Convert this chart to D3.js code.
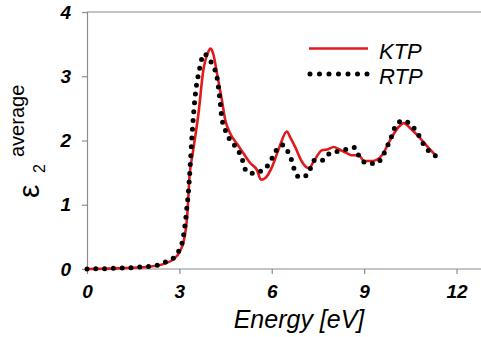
<!DOCTYPE html>
<html>
<head>
<meta charset="utf-8">
<script src="https://cdn.jsdelivr.net/npm/d3@7"></script>
<style>
  body { margin: 0; background: #fff; }
  svg { display: block; }
  text { font-family: "Liberation Sans", Arial, sans-serif; }
</style>
</head>
<body>
<div id="chart"></div>
<script>
// energy in eV, eps2 average
var ktpE = [0,0.5,1,1.5,2,2.5,2.8,3.0,3.15,3.25,3.33,3.45,3.62,3.78,3.92,4.02,4.1,4.22,4.38,4.49,4.65,4.87,5.08,5.3,5.52,5.65,5.8,6.01,6.25,6.49,6.6,6.76,6.98,7.2,7.36,7.63,7.8,8.01,8.2,8.45,8.6,8.82,9.0,9.26,9.58,9.85,10.12,10.29,10.5,10.83,11.1,11.32];
var ktpV = [0,0.005,0.01,0.02,0.035,0.08,0.15,0.26,0.45,0.8,1.44,1.85,2.42,3.10,3.36,3.43,3.35,3.05,2.63,2.32,2.11,1.95,1.80,1.65,1.54,1.39,1.42,1.59,1.90,2.14,2.05,1.90,1.67,1.57,1.67,1.85,1.86,1.90,1.86,1.80,1.77,1.77,1.68,1.68,1.77,2.01,2.21,2.27,2.19,2.03,1.88,1.77];

var rtpE = [0,0.28,0.58,0.86,1.15,1.44,1.72,2.02,2.29,2.56,2.83,3.02,3.11,3.19,3.24,3.29,3.33,3.40,3.51,3.65,3.80,4.0,4.14,4.22,4.30,4.38,4.54,4.65,4.87,5.03,5.19,5.45,5.72,5.93,6.06,6.19,6.36,6.55,6.66,6.73,6.90,7.14,7.41,7.63,7.88,8.12,8.42,8.69,8.82,9.07,9.37,9.61,9.72,9.85,9.94,10.05,10.29,10.52,10.74,10.88,11.07,11.32];
var rtpV = [0,0.005,0.005,0.01,0.016,0.02,0.03,0.04,0.06,0.11,0.18,0.32,0.45,0.71,0.94,1.18,1.44,2.0,2.68,3.10,3.35,3.24,3.12,2.99,2.70,2.35,2.11,2.0,1.88,1.72,1.51,1.49,1.55,1.65,1.77,1.88,1.93,1.80,1.67,1.55,1.43,1.46,1.70,1.69,1.80,1.83,1.86,1.89,1.77,1.65,1.64,1.76,1.88,2.01,2.13,2.26,2.31,2.24,2.11,1.98,1.85,1.76];

var xTicks = [0, 3, 6, 9, 12];
var yTicks = [0, 1, 2, 3, 4];

var W = 481, H = 337;
var svg = d3.select("#chart").append("svg").attr("width", W).attr("height", H);

var x = d3.scaleLinear().domain([0, 12]).range([87, 456.5]);
var y = d3.scaleLinear().domain([0, 4]).range([269, 12]);

var axisCol = "#8c8c8c";

// frame: top line and the two axes
svg.append("line").attr("x1", 87).attr("x2", W).attr("y1", 12).attr("y2", 12)
  .attr("stroke", axisCol).attr("stroke-width", 1.2);

var xa = svg.append("g").attr("transform", "translate(0," + y(0) + ")")
  .call(d3.axisBottom(x).tickValues(xTicks).tickFormat(d3.format("d")).tickSize(5).tickPadding(11));
xa.select(".domain").attr("d", "M87,0H" + W);
var ya = svg.append("g").attr("transform", "translate(" + x(0) + ",0)")
  .call(d3.axisLeft(y).tickValues(yTicks).tickFormat(d3.format("d")).tickSize(5).tickPadding(11));

[xa, ya].forEach(function (g) {
  g.select(".domain").attr("stroke", axisCol).attr("stroke-width", 1.2);
  g.selectAll(".tick line").attr("stroke", axisCol).attr("stroke-width", 1.2);
  g.selectAll(".tick text").attr("fill", "#000")
    .style("font-size", "19px").style("font-weight", "bold").style("font-style", "italic")
    .style("font-family", "'Liberation Sans', Arial, sans-serif");
});

var line = d3.line().curve(d3.curveMonotoneX)
  .x(function (d) { return x(d[0]); })
  .y(function (d) { return y(d[1]); });

var ktp = ktpE.map(function (e, i) { return [e, ktpV[i]]; });
var rtp = rtpE.map(function (e, i) { return [e, rtpV[i]]; });

svg.append("path").attr("d", line(ktp)).attr("fill", "none")
  .attr("stroke", "#e31a1c").attr("stroke-width", 2.6).attr("stroke-linejoin", "round");
svg.append("path").attr("d", line(rtp)).attr("fill", "none")
  .attr("stroke", "#000").attr("stroke-width", 5)
  .attr("stroke-linecap", "round").attr("stroke-dasharray", "0 8.8");

// legend
svg.append("line").attr("x1", 309).attr("x2", 368).attr("y1", 48.5).attr("y2", 48.5)
  .attr("stroke", "#e31a1c").attr("stroke-width", 2.6);
svg.append("line").attr("x1", 310).attr("x2", 369).attr("y1", 74).attr("y2", 74)
  .attr("stroke", "#000").attr("stroke-width", 5)
  .attr("stroke-linecap", "round").attr("stroke-dasharray", "0 9.5");
svg.append("text").attr("x", 379).attr("y", 59).text("KTP")
  .style("font-size", "22px").style("font-style", "italic");
svg.append("text").attr("x", 379).attr("y", 84).text("RTP")
  .style("font-size", "22px").style("font-style", "italic");

// axis titles
svg.append("text").attr("x", 299).attr("y", 328).attr("text-anchor", "middle")
  .text("Energy [eV]").style("font-size", "25px").style("font-style", "italic");

svg.append("text").attr("transform", "translate(39,198) rotate(-90)")
  .text("\u03b5").style("font-size", "30px");
svg.append("text").attr("transform", "translate(45,173) rotate(-90)")
  .text("2").style("font-size", "16px");
svg.append("text").attr("transform", "translate(24,157) rotate(-90)")
  .text("average").style("font-size", "20px");
</script>
</body>
</html>
